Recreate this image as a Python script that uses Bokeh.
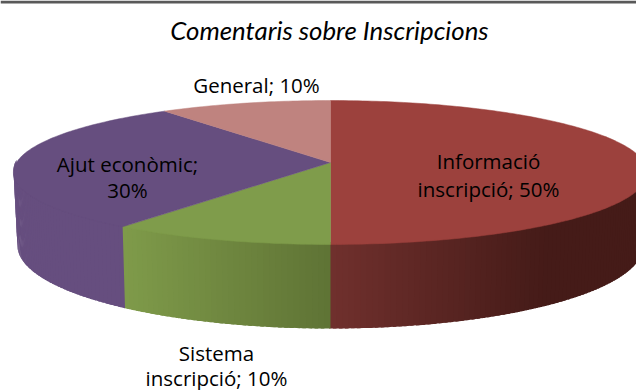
import math
from bokeh.plotting import figure
from bokeh.core.properties import value
from bokeh.embed import file_html
from bokeh.resources import INLINE

categories = ["Informació inscripció", "Sistema inscripció", "Ajut econòmic", "General"]
shares = [50, 10, 30, 10]
title_text = "Comentaris sobre Inscripcions"
label_lines = [["Informació", "inscripció; 50%"], ["Sistema", "inscripció; 10%"], ["Ajut econòmic;", "30%"], ["General; 10%"]]

top_colors = ["#9c413d", "#7f9c4b", "#664e7f", "#bf837f"]
side_start = [(0x70, 0x30, 0x2d), (0x7f, 0x9b, 0x4a), (0x66, 0x4e, 0x7f), (0xbf, 0x83, 0x7f)]
side_end = [(0x45, 0x1b, 0x18), (0x5f, 0x73, 0x35), (0x66, 0x4e, 0x7f), (0xbf, 0x83, 0x7f)]
side_span = [(330, 545), (121, 330), (0, 636), (0, 636)]
label_pos = [[(488, 160), (488, 188)], [(216, 352), (216, 377)], [(127, 163), (127, 189)], [(256, 84)]]

CX = 330.0


def project(theta, apex_y, a, b, c):
    u, v = math.sin(theta), math.cos(theta)
    d = 1 + c * v
    return CX + b * u / d, apex_y - a * v / d


def top_pt(theta):
    return project(theta, 162.0, 70.6, 314.0, 0.1389)


def bottom_pt(theta):
    return project(theta, 233.4, 81.4, 310.0, 0.14)


p = figure(width=636, height=390, x_range=(0, 636), y_range=(390, 0), output_backend="svg",
           toolbar_location=None, min_border=0, margin=(0, 0, 0, 0))
p.axis.visible = False
p.grid.visible = False
p.outline_line_color = None
p.background_fill_color = "#ffffff"

# dark band on the top edge of the picture
p.quad(left=[0], right=[636], top=[0], bottom=[3], fill_color="#595959", line_color=None)

# wedge boundaries from the shares (clockwise from 12 o'clock)
total = sum(shares)
bounds, acc = [], 0
for s in shares:
    bounds.append((acc / total * 2 * math.pi, (acc + s) / total * 2 * math.pi))
    acc += s

# side wall, vertical strips; each strip overlaps the next so no seams show
xs_s, ys_s, cols = [], [], []
RIM_TUCK = 2.5  # the wall runs a little under the top face
for i, (a0, a1) in enumerate(bounds):
    lo, hi = max(a0, math.pi / 2), min(a1, 3 * math.pi / 2)
    if hi <= lo:
        continue
    end = hi + 0.004 if a1 < 3 * math.pi / 2 else hi
    n = max(2, int((hi - lo) * 60))
    for k in range(n):
        t0 = lo + (hi - lo) * k / n
        t1 = min(end, lo + (hi - lo) * (k + 1.6) / n)
        if k == n - 1:
            t1 = end
        tm = lo + (hi - lo) * (k + 0.5) / n
        tx0, ty0 = top_pt(t0)
        tx1, ty1 = top_pt(t1)
        tmx, tmy = top_pt(tm)
        bx0, by0 = bottom_pt(t0)
        bx1, by1 = bottom_pt(t1)
        bmx, bmy = bottom_pt(tm)
        f = min(1, max(0, (tmx - side_span[i][0]) / (side_span[i][1] - side_span[i][0])))
        col = tuple(int(round(side_start[i][j] + (side_end[i][j] - side_start[i][j]) * f)) for j in range(3))
        xs_s.append([tx0, tmx, tx1, bx1, bmx, bx0])
        ys_s.append([ty0 - RIM_TUCK, tmy - RIM_TUCK, ty1 - RIM_TUCK, by1, bmy, by0])
        cols.append("#%02x%02x%02x" % col)
p.patches(xs_s, ys_s, fill_color=cols, line_color=None)

# top face
xs_t, ys_t = [], []
for a0, a1 in bounds:
    n = max(8, int((a1 - a0) * 60))
    pts = [top_pt(a0 + (a1 - a0) * k / n) for k in range(n + 1)]
    xs_t.append([CX] + [q[0] for q in pts])
    ys_t.append([162.0] + [q[1] for q in pts])
p.patches(xs_t, ys_t, fill_color=top_colors, line_color=top_colors, line_width=0.5)

# texts
p.text(x=[329], y=[29], text=[title_text], text_font=value("Lato"), text_font_size="25.8px",
       text_font_style="italic", text_color="#000000", text_align="center", text_baseline="middle")
for lines, poss in zip(label_lines, label_pos):
    for line, (lx, ly) in zip(lines, poss):
        p.text(x=[lx], y=[ly], text=[line], text_font=value("Open Sans"), text_font_size="20.5px",
               text_color="#000000", text_align="center", text_baseline="middle")

open("out.html", "w").write(file_html(p, INLINE))
